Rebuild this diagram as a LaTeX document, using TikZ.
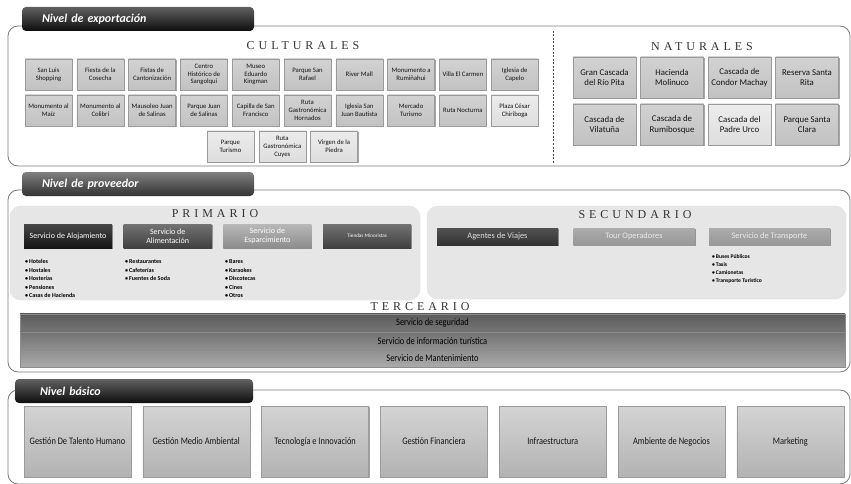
\documentclass[tikz,border=0pt]{standalone}
\usepackage{fontspec}
\setmainfont{Carlito}
\newfontfamily\serfont[LetterSpace=33]{Liberation Serif}
\newfontfamily\condfont[FakeStretch=0.84]{Carlito}
\usetikzlibrary{shadows}
\definecolor{framec}{HTML}{7A7A7A}
\definecolor{edgec}{HTML}{9A9A9A}
\definecolor{cgtop}{HTML}{D2D2D2}
\definecolor{cgbot}{HTML}{C2C2C2}
\definecolor{cltop}{HTML}{ECECEC}
\definecolor{clbot}{HTML}{DEDEDE}
\definecolor{panelc}{HTML}{E6E6E6}
\definecolor{titlec}{HTML}{333333}
\definecolor{txt}{HTML}{141414}
\tikzset{
  shd/.style={drop shadow={shadow xshift=1pt, shadow yshift=-1.2pt, opacity=0.35, fill=black}},
  cbox/.style={draw=edgec, line width=0.4pt, top color=cgtop, bottom color=cgbot, shd,
    minimum width=47pt, minimum height=31pt, inner sep=0pt, align=center, text=txt,
    font=\fontsize{6.7}{7.9}\selectfont},
  cboxl/.style={cbox, top color=cltop, bottom color=clbot},
  nbox/.style={cbox, minimum width=63pt, minimum height=41pt, font=\fontsize{8.8}{10.4}\selectfont},
  nboxl/.style={nbox, top color=cltop, bottom color=clbot},
  pbox/.style={minimum width=88pt, minimum height=24pt, inner sep=0pt, align=center, text=white,
    font=\fontsize{8}{9}\selectfont, shd},
  sbox/.style={minimum width=121pt, minimum height=17pt, inner sep=0pt, align=center,
    font=\fontsize{8.4}{9.5}\selectfont, shd},
  bar/.style={minimum width=825pt, minimum height=17.5pt, inner sep=0pt, draw=black!45,
    line width=0.3pt, text=black, font=\condfont\fontsize{10}{11}\selectfont},
  bbox/.style={cbox, minimum width=107pt, minimum height=71pt, top color=black!17, bottom color=black!30,
    font=\condfont\fontsize{10}{11}\selectfont},
  tab/.style={rounded corners=4pt, minimum width=232pt, minimum height=24pt, inner xsep=20pt,
    text width=192pt, align=left, text=white, font=\bfseries\itshape\fontsize{12}{13}\selectfont},
  frame/.style={draw=framec, line width=0.8pt, rounded corners=10pt},
  panel/.style={fill=panelc, draw=black!12, line width=0.4pt, rounded corners=11pt},
  ttl/.style={font=\serfont\fontsize{12}{13}\selectfont, text=titlec},
  blist/.style={anchor=north west, align=left, inner sep=0pt, text=black,
    font=\bfseries\fontsize{6}{8.5}\selectfont}
}
\begin{document}
\begin{tikzpicture}[x=1pt,y=-1pt]
\useasboundingbox (0,0) rectangle (851,484);
\fill[white] (0,0) rectangle (851,484);

% ===== Nivel de exportacion =====
\draw[frame] (8,26) rectangle (850,166);
\node[tab, top color=black!62, bottom color=black!95] (tabE) at (138,19) {Nivel de exportación};
\draw[dashed, black!70, line width=0.5pt, dash pattern=on 2pt off 1.5pt] (553,31) -- (553,164);
\node[ttl] (tcul) at (303,46) {CULTURALES};
\node[ttl] (tnat) at (702,47) {NATURALES};

\node[cbox] (c1) at (48.5,74.5) {San Luis\\Shopping};
\node[cbox] (c2) at (100.3,74.5) {Fiesta de la\\Cosecha};
\node[cbox] (c3) at (152.1,74.5) {Fistas de\\Cantonización};
\node[cbox] (c4) at (203.9,74.5) {Centro\\Histórico de\\Sangolquí};
\node[cbox] (c5) at (255.7,74.5) {Museo\\Eduardo\\Kingman};
\node[cbox] (c6) at (307.5,74.5) {Parque San\\Rafael};
\node[cbox] (c7) at (359.3,74.5) {River Mall};
\node[cbox] (c8) at (411.1,74.5) {Monumento a\\Rumiñahui};
\node[cbox] (c9) at (462.9,74.5) {Villa El Carmen};
\node[cbox] (c10) at (514.7,74.5) {Iglesia de\\Capelo};

\node[cbox] (d1) at (48.5,110.5) {Monumento al\\Maíz};
\node[cbox] (d2) at (100.3,110.5) {Monumento al\\Colibrí};
\node[cbox] (d3) at (152.1,110.5) {Mausoleo Juan\\de Salinas};
\node[cbox] (d4) at (203.9,110.5) {Parque Juan\\de Salinas};
\node[cbox] (d5) at (255.7,110.5) {Capilla de San\\Francisco};
\node[cbox] (d6) at (307.5,110.5) {Ruta\\Gastronómica\\Hornados};
\node[cbox] (d7) at (359.3,110.5) {Iglesia San\\Juan Bautista};
\node[cbox] (d8) at (411.1,110.5) {Mercado\\Turismo};
\node[cbox] (d9) at (462.9,110.5) {Ruta Nocturna};
\node[cboxl] (d10) at (514.7,110.5) {Plaza César\\Chiriboga};

\node[cboxl] (e1) at (230.5,146.5) {Parque\\Turismo};
\node[cboxl] (e2) at (282.3,146.5) {Ruta\\Gastronómica\\Cuyes};
\node[cboxl] (e3) at (334.1,146.5) {Virgen de la\\Piedra};

\node[nbox] (n1) at (604.5,77.5) {Gran Cascada\\del Río Pita};
\node[nbox] (n2) at (672,77.5) {Hacienda\\Molinuco};
\node[nbox] (n3) at (739.5,77.5) {Cascada de\\Condor Machay};
\node[nbox] (n4) at (807,77.5) {Reserva Santa\\Rita};
\node[nbox] (n5) at (604.5,124.5) {Cascada de\\Vilatuña};
\node[nbox] (n6) at (672,124.5) {Cascada de\\Rumibosque};
\node[nboxl] (n7) at (739.5,124.5) {Cascada del\\Padre Urco};
\node[nbox] (n8) at (807,124.5) {Parque Santa\\Clara};

% ===== Nivel de proveedor =====
\draw[frame] (8,190) rectangle (850,372);
\node[tab, top color=black!50, bottom color=black!80] (tabP) at (138,184) {Nivel de proveedor};

\draw[panel] (10,206) rectangle (420,300);
\draw[panel] (427,206) rectangle (846,299);
\node[ttl] (tpri) at (215,214) {PRIMARIO};
\node[ttl] (tsec) at (635,215) {SECUNDARIO};
\node[ttl] (tter) at (420,307) {TERCEARIO};

\node[pbox, top color=black!72, bottom color=black!92] (p1) at (68,236) {Servicio de Alojamiento};
\node[pbox, top color=black!55, bottom color=black!75] (p2) at (167.7,236) {Servicio de\\Alimentación};
\node[pbox, top color=black!28, bottom color=black!45] (p3) at (267.4,236) {Servicio de\\Esparcimiento};
\node[pbox, top color=black!55, bottom color=black!75, font=\fontsize{5.2}{6}\selectfont] (p4) at (367.1,236) {Tiendas Minoristas};

\node[blist] (l1) at (25,259.5) {\textbullet\,Hoteles\\\textbullet\,Hostales\\\textbullet\,Hosterías\\\textbullet\,Pensiones\\\textbullet\,Casas de Hacienda};
\node[blist] (l2) at (125,259.5) {\textbullet\,Restaurantes\\\textbullet\,Cafeterías\\\textbullet\,Fuentes de Soda};
\node[blist] (l3) at (225,259.5) {\textbullet\,Bares\\\textbullet\,Karaokes\\\textbullet\,Discotecas\\\textbullet\,Cines\\\textbullet\,Otros};

\node[sbox, top color=black!68, bottom color=black!80, text=white!88!black] (s1) at (497.5,236.5) {Agentes de Viajes};
\node[sbox, top color=black!33, bottom color=black!40, text=white!92!black] (s2) at (634,236.5) {Tour Operadores};
\node[sbox, top color=black!33, bottom color=black!40, text=white!92!black] (s3) at (769.5,236.5) {Servicio de Transporte};
\node[blist, font=\bfseries\fontsize{5.6}{7.9}\selectfont] (l4) at (712,254.5) {\textbullet\,Buses Públicos\\\textbullet\,Taxis\\\textbullet\,Camionetas\\\textbullet\,Transporte Turístico};

\node[bar, top color=black!64, bottom color=black!54] (b1) at (432.5,322.7) {Servicio de seguridad};
\node[bar, top color=black!55, bottom color=black!44] (b2) at (432.5,340.6) {Servicio de información turística};
\node[bar, top color=black!44, bottom color=black!33] (b3) at (432.5,358.5) {Servicio de Mantenimiento};

% ===== Nivel basico =====
\draw[frame] (8,390) rectangle (850,484);
\node[tab, top color=black!62, bottom color=black!95, minimum width=238pt, inner xsep=25pt, text width=188pt] (tabB) at (134,391) {Nivel básico};

\node[bbox] (g1) at (77.5,441.5) {Gestión De Talento Humano};
\node[bbox] (g2) at (196.3,441.5) {Gestión Medio Ambiental};
\node[bbox] (g3) at (315.1,441.5) {Tecnología e Innovación};
\node[bbox] (g4) at (433.9,441.5) {Gestión Financiera};
\node[bbox] (g5) at (552.7,441.5) {Infraestructura};
\node[bbox] (g6) at (671.5,441.5) {Ambiente de Negocios};
\node[bbox] (g7) at (790.3,441.5) {Marketing};
\end{tikzpicture}
\end{document}
